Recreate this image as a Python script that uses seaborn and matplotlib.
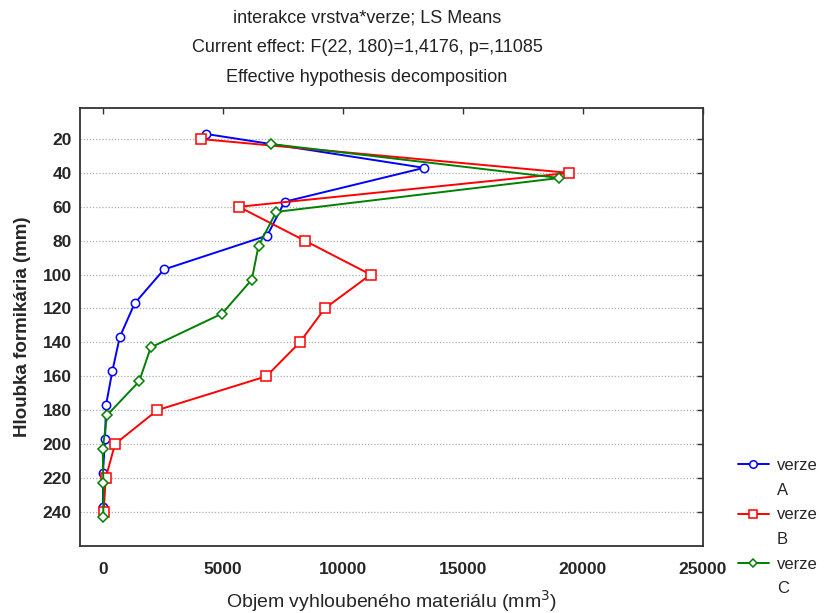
import numpy as np
import pandas as pd
import seaborn as sns
import matplotlib.pyplot as plt
from matplotlib.lines import Line2D

# hloubka (mm) a objem vyhloubeneho materialu (mm3) pro jednotlive verze
hloubka = [20, 40, 60, 80, 100, 120, 140, 160, 180, 200, 220, 240]
verze_a = [4300, 13390, 7580, 6850, 2550, 1330, 707, 400, 137, 96, 10, 12]
verze_b = [4080, 19440, 5670, 8420, 11160, 9250, 8210, 6820, 2275, 512, 125, 40]
verze_c = [7030, 19020, 7230, 6490, 6210, 4975, 2000, 1520, 180, 0, 25, 25]
verze_jmena = ["A", "B", "C"]

title_lines = ["interakce vrstva*verze; LS Means",
               "Current effect: F(22, 180)=1,4176, p=,11085",
               "Effective hypothesis decomposition"]

# posun bodu ve svislem smeru (jako ve STATISTICE)
posun = {"A": -3, "B": 0, "C": 3}

frames = []
for v, vals in zip(verze_jmena, [verze_a, verze_b, verze_c]):
    d = pd.DataFrame({"objem": vals, "hloubka": hloubka})
    d["verze"] = v
    d["y"] = d["hloubka"] + posun[v]
    frames.append(d)
df = pd.concat(frames, ignore_index=True)

sns.set_style("white")
plt.rcParams["font.family"] = ["Liberation Sans", "DejaVu Sans"]

barvy = {"A": "#0000ff", "B": "#ff0000", "C": "#008000"}
znacky = {"A": "o", "B": "s", "C": "D"}
velikost = {"A": 6, "B": 6.5, "C": 4.8}

fig = plt.figure(figsize=(8.26, 6.13), dpi=100)
ax = fig.add_axes([0.0969, 0.1098, 0.754, 0.714])

for v in verze_jmena:
    sub = df[df["verze"] == v]
    sns.lineplot(data=sub, x="objem", y="y", sort=False, estimator=None,
                 color=barvy[v], marker=znacky[v], markersize=velikost[v],
                 markerfacecolor="white", markeredgecolor=barvy[v],
                 markeredgewidth=1.1, linewidth=1.4, ax=ax, legend=False)

ax.set_xlim(-945, 25000)
ax.set_ylim(260, 1.7)
ax.set_xticks([0, 5000, 10000, 15000, 20000, 25000])
ax.set_yticks(hloubka)
ax.yaxis.grid(True, linestyle=(0, (1, 1.5)), color="#b0b0b0", linewidth=0.9)
ax.xaxis.grid(False)
ax.tick_params(direction="in", length=4, width=1, top=True, right=True,
               labeltop=False, labelright=False, color="#333333")
for s in ax.spines.values():
    s.set_color("#333333")
    s.set_linewidth(1.3)

for lab in ax.get_xticklabels() + ax.get_yticklabels():
    lab.set_fontweight("bold")
    lab.set_fontsize(12.5)
ax.tick_params(axis="x", pad=12)
ax.tick_params(axis="y", pad=6)

ax.set_xlabel("Objem vyhloubeného materiálu (mm$^3$)", fontsize=14, labelpad=8)
ax.set_ylabel("Hloubka formikária (mm)", fontweight="bold", fontsize=13.5,
              labelpad=8)

for i, t in enumerate(title_lines):
    fig.text(367 / 826, 1 - (18 + 30 * i) / 613, t, ha="center", va="center",
             fontsize=13, color="#222222")

handles = []
labels = []
for v in verze_jmena:
    handles.append(Line2D([0], [0], color=barvy[v], marker=znacky[v],
                          markersize=velikost[v] * 0.9, markerfacecolor="white",
                          markeredgewidth=1.1, linewidth=1.4))
    labels.append("verze")
    handles.append(Line2D([0], [0], color="none"))
    labels.append(v)
fig.legend(handles, labels, loc="upper left", bbox_to_anchor=(0.885, 0.2635),
           borderaxespad=0, frameon=False, handlelength=1.85,
           handletextpad=0.5, labelspacing=0.58, prop={"size": 12})

fig.savefig("out.png", dpi=100)
